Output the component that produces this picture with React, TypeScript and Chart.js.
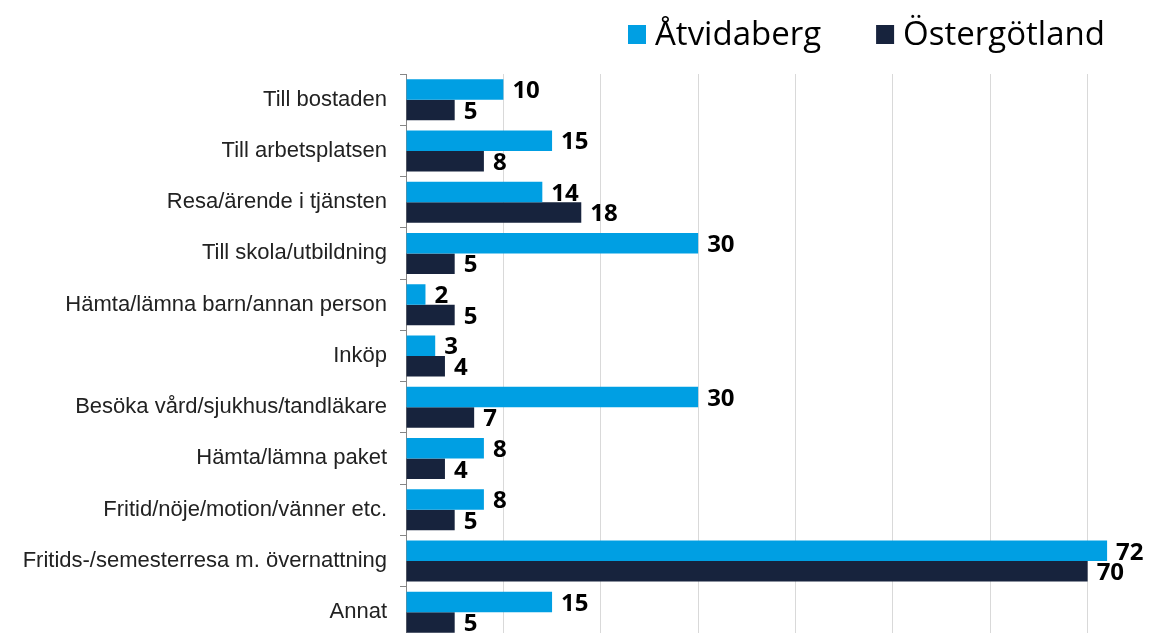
import React, { useEffect, useRef } from "react";
import { Chart, registerables } from "chart.js";

Chart.register(...registerables);

const categories = [
  "Till bostaden",
  "Till arbetsplatsen",
  "Resa/ärende i tjänsten",
  "Till skola/utbildning",
  "Hämta/lämna barn/annan person",
  "Inköp",
  "Besöka vård/sjukhus/tandläkare",
  "Hämta/lämna paket",
  "Fritid/nöje/motion/vänner etc.",
  "Fritids-/semesterresa m. övernattning",
  "Annat",
];
const atvidaberg = [10, 15, 14, 30, 2, 3, 30, 8, 8, 72, 15];
const ostergotland = [5, 8, 18, 5, 5, 4, 7, 4, 5, 70, 5];
const seriesNames = ["Åtvidaberg", "Östergötland"];
const seriesColors = ["#009FE3", "#17233D"];
const xTicks = [0, 10, 20, 30, 40, 50, 60, 70, 80];

const valueLabels = {
  id: "valueLabels",
  afterDatasetsDraw(chart: any) {
    const ctx = chart.ctx;
    ctx.save();
    ctx.font = "bold 24px 'Open Sans'";
    ctx.fillStyle = "#000";
    ctx.textAlign = "left";
    ctx.textBaseline = "middle";
    chart.data.datasets.forEach((ds: any, i: number) => {
      const meta = chart.getDatasetMeta(i);
      meta.data.forEach((bar: any, j: number) => {
        ctx.fillText(String(ds.data[j]), bar.x + 9, bar.y + 2);
      });
    });
    ctx.restore();
  },
};

const customLegend = {
  id: "customLegend",
  afterDraw(chart: any) {
    const ctx = chart.ctx;
    ctx.save();
    ctx.font = "33px 'Open Sans'";
    ctx.textBaseline = "alphabetic";
    ctx.textAlign = "left";
    const startX = 628;
    const gap = 55;
    const box = 18;
    const boxGap = 9;
    const baseline = 45;
    let x = startX;
    chart.data.datasets.forEach((ds: any) => {
      const w = ctx.measureText(ds.label).width;
      ctx.fillStyle = ds.backgroundColor;
      ctx.fillRect(x, baseline - 20, box, 19);
      ctx.fillStyle = "#000";
      ctx.fillText(ds.label, x + box + boxGap, baseline);
      x += box + boxGap + w + gap;
    });
    ctx.restore();
  },
};

export default function App() {
  const ref = useRef<HTMLCanvasElement>(null);
  useEffect(() => {
    document.body.style.margin = "0";
    if (!ref.current) return;
    const chart = new Chart(ref.current, {
      type: "bar",
      data: {
        labels: categories,
        datasets: [
          { label: seriesNames[0], data: atvidaberg, backgroundColor: seriesColors[0] },
          { label: seriesNames[1], data: ostergotland, backgroundColor: seriesColors[1] },
        ],
      },
      options: {
        indexAxis: "y",
        responsive: false,
        animation: false,
        maintainAspectRatio: false,
        layout: { padding: { top: 74, bottom: 6, right: 5, left: 0 } },
        datasets: {
          bar: { barPercentage: 1, categoryPercentage: 0.8 },
        },
        plugins: {
          legend: { display: false },
          tooltip: { enabled: false },
        },
        scales: {
          x: {
            min: 0,
            max: 80,
            afterBuildTicks: (scale: any) => {
              scale.ticks = xTicks.map((v) => ({ value: v }));
            },
            afterFit: (scale: any) => {
              scale.height = 0;
            },
            ticks: { display: false },
            grid: { color: "#D9D9D9", lineWidth: 1, drawTicks: false },
            border: { display: false },
          },
          y: {
            afterFit: (scale: any) => {
              scale.width = 406;
            },
            ticks: {
              color: "#222",
              padding: 13,
              font: { family: "'Liberation Sans', Arial", size: 22 },
            },
            grid: {
              drawOnChartArea: false,
              drawTicks: true,
              tickLength: 6,
              color: "#868686",
            },
            border: { display: true, color: "#868686" },
          },
        },
      },
      plugins: [valueLabels, customLegend],
    });
    return () => chart.destroy();
  }, []);
  return (
    <div style={{ width: 1171, height: 633, overflow: "hidden", position: "relative" }}>
      <canvas
        ref={ref}
        width={1190}
        height={664}
        style={{ position: "absolute", left: 0, top: 0, width: 1190, height: 664 }}
      />
    </div>
  );
}
